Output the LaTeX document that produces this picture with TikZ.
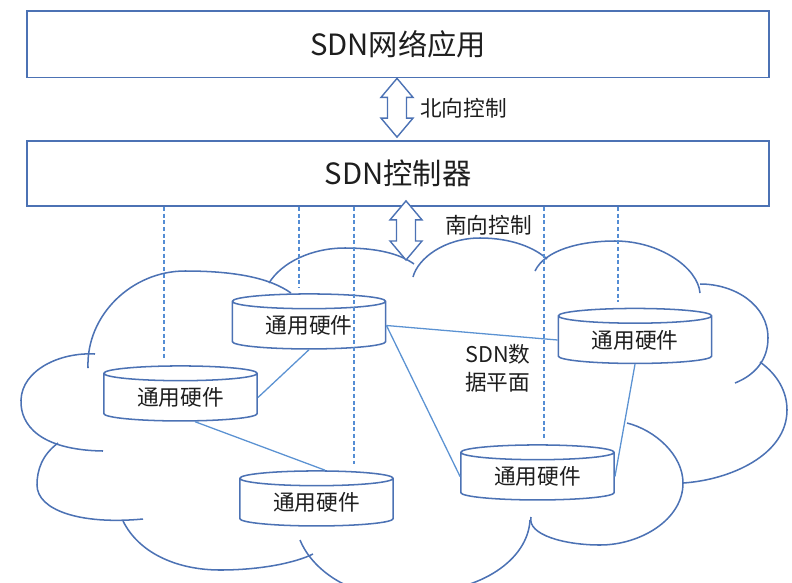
\documentclass[tikz,border=0pt]{standalone}
\usepackage{fontspec}
\setmainfont{Noto Sans CJK SC}
\usepackage{tikz}
\usetikzlibrary{shapes.geometric,calc}
\definecolor{boxblue}{RGB}{76,114,180}
\definecolor{linkblue}{RGB}{91,146,210}
\definecolor{dashblue}{RGB}{84,141,212}
\definecolor{txtgray}{RGB}{30,30,30}
\tikzset{
  layerbox/.style={draw=boxblue, line width=1.5pt, fill=white, minimum width=22.26cm,
    font=\fontsize{25}{30}\selectfont, text=txtgray},
  hwnode/.style={cylinder, shape border rotate=90, aspect=0.17, draw=boxblue, line width=1.3pt,
    fill=white, minimum width=4.6cm, minimum height=1.65cm, inner sep=0pt,
    font=\fontsize{18.5}{22}\selectfont, text=txtgray},
  lbl/.style={font=\fontsize{18.5}{24}\selectfont, text=txtgray, inner sep=0pt},
  link/.style={draw=linkblue, line width=1.1pt},
  ctlline/.style={draw=dashblue, line width=0.9pt, dash pattern=on 3.4pt off 2.3pt},
  cloudline/.style={draw=boxblue, line width=1.3pt},
  fatarrow/.style={draw=boxblue, line width=1.2pt, fill=white,
    to path={let \p1=(\tikztostart), \p2=(\tikztotarget) in
      -- (\x1-0.48cm,\y1-0.57cm) -- (\x1-0.285cm,\y1-0.57cm) -- (\x1-0.285cm,\y2+0.57cm)
      -- (\x1-0.48cm,\y2+0.57cm) -- (\p2) -- (\x1+0.48cm,\y2+0.57cm) -- (\x1+0.285cm,\y2+0.57cm)
      -- (\x1+0.285cm,\y1-0.57cm) -- (\x1+0.48cm,\y1-0.57cm) -- cycle}},
}

\begin{document}
\begin{tikzpicture}[x=0.03cm, y=-0.03cm]
  \useasboundingbox (0,0) rectangle (792,582);
  \clip (0,0) rectangle (792,582);

  % cloud of the data plane
  \draw[cloudline] (88,368) .. controls (86,315) and (132,271) .. (185,271) .. controls (235,271) and (270,278) .. (291,293);
  \draw[cloudline] (269,283) .. controls (282,262) and (312,248) .. (345,248) .. controls (378,248) and (400,254) .. (414,264);
  \draw[cloudline] (413,277) .. controls (418,258) and (445,238) .. (480,238) .. controls (512,238) and (535,248) .. (547,259);
  \draw[cloudline] (535,271) .. controls (545,250) and (580,241) .. (615,241) .. controls (660,241) and (698,268) .. (700,293);
  \draw[cloudline] (700,284) .. controls (735,284) and (768,305) .. (768,338) .. controls (768,360) and (755,375) .. (735,383);
  \draw[cloudline] (760,362) .. controls (778,375) and (787,392) .. (787,410) .. controls (787,455) and (730,480) .. (683,483);
  \draw[cloudline] (627,423) .. controls (655,430) and (683,455) .. (683,483) .. controls (683,520) and (640,545) .. (600,545) .. controls (565,545) and (527,535) .. (531,517);
  \draw[cloudline] (530,520) .. controls (528,560) and (480,592) .. (420,592);
  \draw[cloudline] (300,540) .. controls (310,565) and (340,590) .. (380,595);
  \draw[cloudline] (123,521) .. controls (140,555) and (180,570) .. (220,570) .. controls (260,570) and (295,563) .. (313,554);
  \draw[cloudline] (58,443) .. controls (42,455) and (37,470) .. (37,485) .. controls (37,510) and (80,525) .. (143,519);
  \draw[cloudline] (103,451) .. controls (40,450) and (20,425) .. (21,400) .. controls (22,370) and (60,352) .. (95,354);

  \node[layerbox, minimum height=1.995cm] (app) at (398,44.25) {SDN网络应用};
  \node[layerbox, minimum height=1.95cm] (ctrl) at (398,173.5) {SDN控制器};

  \node[hwnode] (hwA) at (309,325.5) {通用硬件};
  \node[hwnode] (hwB) at (180.5,397.5) {通用硬件};
  \node[hwnode] (hwC) at (316.5,502.5) {通用硬件};
  \node[hwnode] (hwD) at (635,340) {通用硬件};
  \node[hwnode] (hwE) at (537.5,476.5) {通用硬件};

  % links between the devices
  \draw[link] (hwA.south) -- (hwB.east);
  \draw[link] ($(hwB.south)+(14.5,0)$) -- ($(hwC.north)+(8.5,0)$);
  \draw[link] (hwA.east) -- (hwD.west);
  \draw[link] (hwA.east) -- (hwE.west);
  \draw[link] (hwD.south) -- (hwE.east);

  % control lines from the controller
  \foreach \hw/\dx in {hwB/-16.5, hwA/-10, hwC/37.5, hwE/6.5, hwD/-17} {
    \path ($(\hw.north)+(\dx,-6)$) coordinate (cend);
    \draw[ctlline] (cend |- ctrl.south) -- (cend);
  }

  \coordinate (nx) at (397,0);
  \draw[fatarrow] (app.south -| nx) to ($(ctrl.north -| nx)+(0,-3)$);
  \node[lbl, anchor=west] (nlab) at (420,108) {北向控制};

  \coordinate (sb) at (406,260);
  \draw[fatarrow] ($(ctrl.south -| sb)+(0,-6)$) to (sb);
  \node[lbl, anchor=west] (slab) at (445,225) {南向控制};

  \node[lbl, anchor=west, align=left] (dplab) at (465,368) {SDN数\\据平面};
\end{tikzpicture}
\end{document}
